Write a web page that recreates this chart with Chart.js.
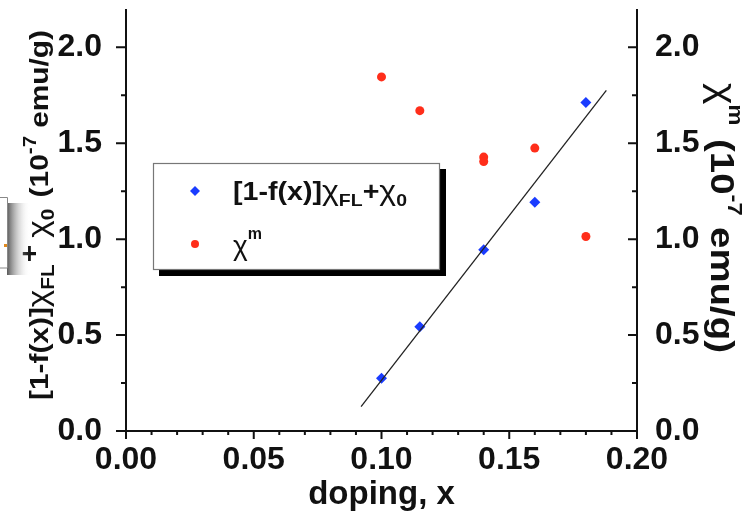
<!DOCTYPE html>
<html>
<head>
<meta charset="utf-8">
<script src="https://cdn.jsdelivr.net/npm/chart.js@4"></script>
<style>
  html, body { margin: 0; padding: 0; background: #ffffff; }
  #wrap { width: 747px; height: 525px; position: relative; }
</style>
</head>
<body>
<div id="wrap"><canvas id="c" width="747" height="525"></canvas></div>
<script>
// ---- data ----
const dopingX = [0.10, 0.115, 0.14, 0.16, 0.18];
const fitValues = [0.275, 0.544, 0.945, 1.192, 1.713];        // [1-f(x)]χFL+χ0
const chiMX = [0.10, 0.115, 0.14, 0.14, 0.16, 0.18];
const chiMValues = [1.846, 1.670, 1.428, 1.405, 1.475, 1.014]; // χm
const lineX = [0.092, 0.188];
const lineY = [0.127, 1.776];
const xTicks = [0.00, 0.05, 0.10, 0.15, 0.20];
const yTicks = [0.0, 0.5, 1.0, 1.5, 2.0];
const xTitle = 'doping, x';

const FONT = "'Liberation Sans', Arial, sans-serif";
const BLUE = '#1a3cff';
const RED = '#ff2e1a';

function pts(xs, ys) { return xs.map((x, i) => ({ x: x, y: ys[i] })); }

function richWidth(ctx, parts) {
  let w = 0;
  for (const p of parts) { ctx.font = (p.w || 'bold') + ' ' + p.s + 'px ' + FONT; w += ctx.measureText(p.t).width + (p.gap || 0); }
  return w;
}
function drawRich(ctx, parts, x, y) {
  ctx.textBaseline = 'alphabetic';
  ctx.textAlign = 'left';
  let cx = x;
  for (const p of parts) {
    ctx.font = (p.w || 'bold') + ' ' + p.s + 'px ' + FONT;
    ctx.fillText(p.t, cx, y + (p.dy || 0));
    cx += ctx.measureText(p.t).width + (p.gap || 0);
  }
}
// draw rich text so it spans exactly `len` pixels along its direction, centred on (cx, cy)
function drawRichFit(ctx, parts, cx, cy, rot, len) {
  ctx.save();
  ctx.translate(cx, cy);
  ctx.rotate(rot);
  const w = richWidth(ctx, parts);
  ctx.scale(len / w, 1);
  drawRich(ctx, parts, -w / 2, 0);
  ctx.restore();
}

const decor = {
  id: 'decor',
  afterDraw(chart) {
    const ctx = chart.ctx;
    const xs = chart.scales.x, yl = chart.scales.y, yr = chart.scales.y2;
    const L = xs.left, R = xs.right, T = chart.chartArea.top, B = yl.getPixelForValue(0);
    ctx.save();
    ctx.strokeStyle = '#111';
    ctx.fillStyle = '#111';
    ctx.lineWidth = 2;
    ctx.lineCap = 'butt';
    // axis lines
    ctx.beginPath();
    ctx.moveTo(L, T); ctx.lineTo(L, B);
    ctx.moveTo(R, T); ctx.lineTo(R, B);
    ctx.moveTo(L - 1, B); ctx.lineTo(R + 1, B);
    ctx.stroke();
    ctx.beginPath();
    // x ticks (outward, down)
    for (let i = 0; i <= 20; i++) {
      const px = xs.getPixelForValue(i * 0.01);
      const len = (i % 5 === 0) ? 8 : 4;
      ctx.moveTo(px, B); ctx.lineTo(px, B + len);
    }
    // left y ticks (outward)
    for (let i = 0; i <= 8; i++) {
      const py = yl.getPixelForValue(i * 0.25);
      const len = (i % 2 === 0) ? 10 : 5;
      ctx.moveTo(L - len, py); ctx.lineTo(L, py);
    }
    // right y ticks (inward)
    for (let i = 0; i <= 8; i++) {
      const py = yr.getPixelForValue(i * 0.25);
      const len = (i % 2 === 0) ? 9 : 5;
      ctx.moveTo(R - len, py); ctx.lineTo(R, py);
    }
    ctx.stroke();

    // ---- legend ----
    const bx = 153, by = 163, bw = 286, bh = 106;
    ctx.fillStyle = '#000';
    ctx.fillRect(bx + 6, by + 6, bw + 1, bh + 1);
    ctx.fillStyle = '#fff';
    ctx.fillRect(bx, by, bw, bh);
    ctx.strokeStyle = '#777';
    ctx.lineWidth = 1.2;
    ctx.strokeRect(bx + 0.5, by + 0.5, bw, bh);
    ctx.fillStyle = BLUE;
    ctx.beginPath();
    ctx.moveTo(195, 186); ctx.lineTo(200, 191); ctx.lineTo(195, 196); ctx.lineTo(190, 191); ctx.closePath();
    ctx.fill();
    ctx.fillStyle = RED;
    ctx.beginPath(); ctx.arc(195, 244, 4, 0, Math.PI * 2); ctx.fill();
    ctx.fillStyle = '#111';
    const leg1 = [
      { t: '[1-f(x)]', s: 25 },
      { t: 'χ', s: 28, w: 'normal' },
      { t: 'FL', s: 17, dy: 6 },
      { t: '+', s: 25 },
      { t: 'χ', s: 28, w: 'normal' },
      { t: '0', s: 17, dy: 6 }
    ];
    drawRichFit(ctx, leg1, 233 + 174 / 2, 200, 0, 174);
    drawRich(ctx, [
      { t: 'χ', s: 28, w: 'normal' },
      { t: 'm', s: 16, dy: -16 }
    ], 233, 255);

    // ---- left axis title (rotated, reads bottom to top) ----
    drawRichFit(ctx, [
      { t: '[1-f(x)]', s: 26 },
      { t: 'χ', s: 29, w: 'normal' },
      { t: 'FL', s: 18, dy: 6, gap: 2 },
      { t: '+', s: 26, dy: -10, gap: 6 },
      { t: 'χ', s: 29, w: 'normal' },
      { t: '0', s: 18, dy: 6, gap: 10 },
      { t: '(10', s: 26 },
      { t: '-7', s: 18, dy: -12, gap: 7 },
      { t: 'emu/g)', s: 26 }
    ], 48, 215, -Math.PI / 2, 370);

    // ---- right axis title (rotated, reads top to bottom) ----
    drawRichFit(ctx, [
      { t: 'χ', s: 36, w: 'normal' },
      { t: 'm', s: 21, dy: -18, gap: 12 },
      { t: '(10', s: 34 },
      { t: '-7', s: 21, dy: -17, gap: 10 },
      { t: 'emu/g)', s: 34 }
    ], 711, 218, Math.PI / 2, 270);

    // ---- clipped box fragment at the far left ----
    const g = ctx.createLinearGradient(7, 0, 30, 0);
    g.addColorStop(0, 'rgba(60,60,60,0.85)');
    g.addColorStop(1, 'rgba(255,255,255,0)');
    ctx.fillStyle = g;
    ctx.fillRect(7, 203, 23, 72);
    ctx.fillStyle = '#fff';
    ctx.fillRect(0, 197, 7, 71);
    ctx.strokeStyle = '#888';
    ctx.lineWidth = 1;
    ctx.beginPath(); ctx.moveTo(0, 197.5); ctx.lineTo(7.5, 197.5); ctx.lineTo(7.5, 268); ctx.lineTo(0, 268); ctx.stroke();
    ctx.fillStyle = '#e08a20';
    ctx.fillRect(4, 244, 3, 3);

    ctx.restore();
  }
};

function noPad(s) { s.paddingTop = 0; s.paddingBottom = 0; s.paddingLeft = 0; s.paddingRight = 0; }

new Chart(document.getElementById('c'), {
  type: 'scatter',
  data: {
    datasets: [
      {
        type: 'line',
        label: 'fit',
        data: pts(lineX, lineY),
        borderColor: '#222',
        borderWidth: 1.3,
        pointRadius: 0,
        fill: false,
        yAxisID: 'y'
      },
      {
        label: '[1-f(x)]χFL+χ0',
        data: pts(dopingX, fitValues),
        pointStyle: 'rectRot',
        pointRadius: 5.5,
        backgroundColor: BLUE,
        borderWidth: 0,
        yAxisID: 'y'
      },
      {
        label: 'χm',
        data: pts(chiMX, chiMValues),
        pointStyle: 'circle',
        pointRadius: 4.5,
        backgroundColor: RED,
        borderWidth: 0,
        yAxisID: 'y2'
      }
    ]
  },
  options: {
    responsive: false,
    animation: false,
    devicePixelRatio: 1,
    layout: { padding: { top: 9, right: 0, bottom: 0, left: 0 } },
    plugins: { legend: { display: false }, tooltip: { enabled: false } },
    scales: {
      x: {
        type: 'linear',
        position: 'bottom',
        min: 0, max: 0.2,
        afterBuildTicks: (s) => { s.ticks = xTicks.map(v => ({ value: v })); },
        afterFit: (s) => { s.height = 94; noPad(s); },
        grid: { display: false },
        border: { display: false },
        ticks: {
          color: '#111',
          padding: 2,
          maxRotation: 0,
          font: { family: FONT, size: 32, weight: 'bold' },
          callback: (v) => Number(v).toFixed(2)
        },
        title: {
          display: true,
          text: xTitle,
          color: '#111',
          padding: { top: 0, bottom: 10 },
          font: { family: FONT, size: 33, weight: 'bold' }
        }
      },
      y: {
        type: 'linear',
        position: 'left',
        min: 0, max: 2.2,
        afterBuildTicks: (s) => { s.ticks = yTicks.map(v => ({ value: v })); },
        afterFit: (s) => { s.width = 126; noPad(s); },
        grid: { display: false },
        border: { display: false },
        ticks: {
          color: '#111',
          padding: 16,
          font: { family: FONT, size: 32, weight: 'bold' },
          callback: (v) => Number(v).toFixed(1)
        }
      },
      y2: {
        type: 'linear',
        position: 'right',
        min: 0, max: 2.2,
        afterBuildTicks: (s) => { s.ticks = yTicks.map(v => ({ value: v })); },
        afterFit: (s) => { s.width = 110; noPad(s); },
        grid: { display: false },
        border: { display: false },
        ticks: {
          color: '#111',
          padding: 10,
          font: { family: FONT, size: 32, weight: 'bold' },
          callback: (v) => Number(v).toFixed(1)
        }
      }
    }
  },
  plugins: [decor]
});
</script>
</body>
</html>
